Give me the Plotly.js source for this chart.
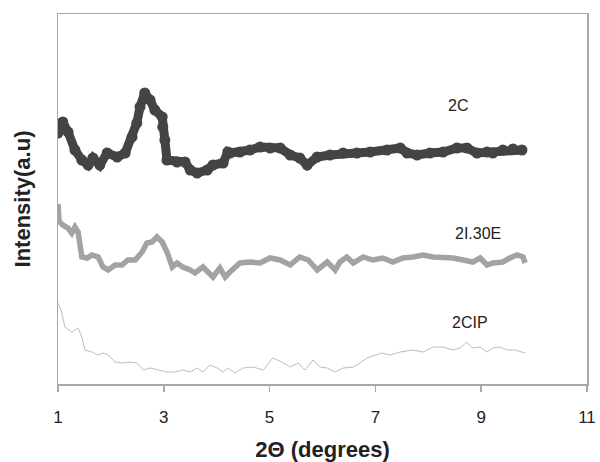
<!DOCTYPE html>
<html>
<head>
<meta charset="utf-8">
<script src="https://cdn.plot.ly/plotly-3.0.1.min.js"></script>
<style>html,body{margin:0;padding:0;background:#fff;}#chart{width:600px;height:462px;}</style>
</head>
<body>
<div id="chart"></div>
<script>
// 2theta (degrees) and intensity (arbitrary units, offset stacked)
var x2C = [1.00,1.09,1.19,1.32,1.45,1.57,1.66,1.79,1.93,2.12,2.27,2.40,2.49,2.55,2.64,2.74,2.83,2.97,2.98,3.02,3.06,3.25,3.40,3.50,3.63,3.82,3.93,4.12,4.21,4.25,4.44,4.63,4.82,5.01,5.20,5.39,5.57,5.71,5.90,6.14,6.39,6.65,6.90,7.22,7.47,7.60,7.79,8.03,8.28,8.54,8.73,8.92,9.11,9.22,9.41,9.60,9.77];
var y2C = [251,262,252,234,224,219,226,219,231,227,231,247,261,277,291,284,274,267,257,244,224,222,222,214,211,214,219,221,232,231,232,234,237,236,236,229,226,219,227,229,231,231,232,234,236,231,229,231,232,236,236,231,232,231,234,235,234];

var x2I30E = [1.00,1.02,1.09,1.19,1.26,1.32,1.38,1.45,1.55,1.64,1.76,1.85,1.95,2.08,2.21,2.32,2.46,2.59,2.68,2.78,2.87,2.97,3.06,3.16,3.25,3.36,3.50,3.59,3.74,3.87,3.93,4.06,4.16,4.25,4.44,4.63,4.82,5.01,5.20,5.39,5.57,5.73,5.90,6.09,6.24,6.33,6.46,6.58,6.77,6.95,7.14,7.33,7.52,7.71,7.90,8.09,8.28,8.47,8.66,8.84,8.98,9.11,9.22,9.41,9.54,9.68,9.79,9.83];
var y2I30E = [180,163,159,156,151,157,152,127,126,129,127,117,114,119,119,124,124,132,141,142,147,142,132,117,121,117,114,111,117,111,107,116,107,112,121,122,121,126,124,119,127,124,114,122,114,122,127,121,127,124,126,122,126,127,129,127,127,126,124,122,126,119,121,122,126,129,127,121];

var x2CIP = [1.00,1.06,1.13,1.26,1.38,1.45,1.51,1.64,1.76,1.85,1.95,2.08,2.21,2.36,2.49,2.61,2.74,2.89,3.06,3.21,3.36,3.50,3.63,3.74,3.87,4.01,4.12,4.21,4.35,4.50,4.69,4.88,5.06,5.23,5.39,5.54,5.67,5.82,5.95,6.09,6.24,6.39,6.58,6.71,6.84,7.12,7.28,7.47,7.71,7.90,8.09,8.28,8.47,8.60,8.73,8.83,8.98,9.11,9.22,9.36,9.49,9.64,9.83];
var y2CIP = [81,74,57,52,56,47,34,32,29,31,29,22,21,22,21,14,16,14,12,12,14,12,16,12,19,16,12,16,11,16,17,14,26,22,17,21,14,24,17,16,12,16,17,21,26,31,29,32,34,32,37,37,34,36,42,36,37,32,36,37,34,34,31];

var seriesLabels = ['2C','2I.30E','2CIP'];
var labelX = [8.56,8.94,8.79];
var labelY = [279,151,62];
var xTicks = [1,3,5,7,9,11];

var traces = [
  {x:x2CIP, y:y2CIP, type:'scatter', mode:'lines', line:{color:'#bdbdbd', width:1}, hoverinfo:'skip'},
  {x:x2I30E, y:y2I30E, type:'scatter', mode:'lines', line:{color:'#a3a3a3', width:5.5}, hoverinfo:'skip'},
  {x:x2C, y:y2C, type:'scatter', mode:'lines+markers', line:{color:'#444444', width:9}, marker:{color:'#444444', size:11}, hoverinfo:'skip'}
];

var annotations = seriesLabels.map(function(t,i){
  return {x:labelX[i], y:labelY[i], xref:'x', yref:'y', text:t, showarrow:false,
          font:{family:'Liberation Sans, Arial, sans-serif', size:16, color:'#222'}};
});

var layout = {
  width:600, height:462,
  margin:{l:58, r:13, t:14, b:78},
  paper_bgcolor:'#fff', plot_bgcolor:'#fff',
  showlegend:false,
  xaxis:{range:[1,11], tickvals:xTicks, ticktext:xTicks.map(String), showgrid:false, zeroline:false,
         showline:true, mirror:true, linecolor:'#a8a8a8', linewidth:1.5,
         ticks:'outside', ticklen:6, tickcolor:'#a8a8a8', tickwidth:1.5, ticklabelstandoff:11,
         tickfont:{family:'Liberation Sans, Arial, sans-serif', size:17, color:'#222'},
         title:{text:'2Θ (degrees)', standoff:15, font:{family:'Liberation Sans, Arial, sans-serif', size:22, color:'#222', weight:'bold'}}},
  yaxis:{range:[0,370], showgrid:false, zeroline:false, showticklabels:false, ticks:'',
         showline:true, mirror:true, linecolor:'#a8a8a8', linewidth:1.5,
         title:{text:'Intensity(a.u)', standoff:20, font:{family:'Liberation Sans, Arial, sans-serif', size:22, color:'#222', weight:'bold'}}},
  annotations:annotations
};

Plotly.newPlot('chart', traces, layout, {staticPlot:true, displayModeBar:false});
</script>
</body>
</html>
